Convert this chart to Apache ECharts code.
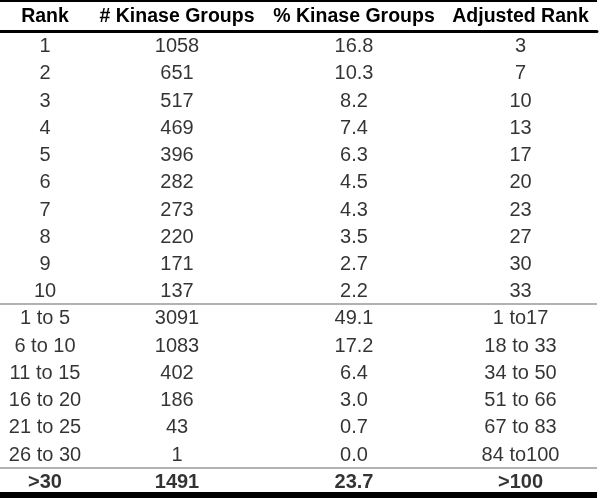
<!DOCTYPE html>
<html>
<head>
<meta charset="utf-8">
<script src="https://cdn.jsdelivr.net/npm/echarts@6/dist/echarts.min.js"></script>
<style>html,body{margin:0;padding:0;background:#fff}#c{width:600px;height:498px}</style>
</head>
<body>
<div id="c"></div>
<script>
const headers = ['Rank', '# Kinase Groups', '% Kinase Groups', 'Adjusted Rank'];
const rankLabels = ['1','2','3','4','5','6','7','8','9','10','1 to 5','6 to 10','11 to 15','16 to 20','21 to 25','26 to 30','>30'];
const kinaseGroups = [1058, 651, 517, 469, 396, 282, 273, 220, 171, 137, 3091, 1083, 402, 186, 43, 1, 1491];
const kinasePct = [16.8, 10.3, 8.2, 7.4, 6.3, 4.5, 4.3, 3.5, 2.7, 2.2, 49.1, 17.2, 6.4, 3.0, 0.7, 0.0, 23.7];
const adjustedRank = ['3','7','10','13','17','20','23','27','30','33','1 to17','18 to 33','34 to 50','51 to 66','67 to 83','84 to100','>100'];

const columns = [
  rankLabels,
  kinaseGroups.map(String),
  kinasePct.map(v => v.toFixed(1)),
  adjustedRank
];
const totalRowIndex = rankLabels.length - 1;
const sectionBreaks = [10, 16];

const FONT = '"Liberation Sans", Arial, Helvetica, sans-serif';
const colEdges = [0, 90, 264, 444, 597];
const chart = echarts.init(document.getElementById('c'), null, {renderer: 'canvas'});

const grids = [], xAxes = [], yAxes = [], series = [];
columns.forEach((col, ci) => {
  grids.push({left: colEdges[ci], width: colEdges[ci + 1] - colEdges[ci], top: 31.5, height: 463, containLabel: false});
  xAxes.push({
    type: 'category', gridIndex: ci, position: 'top', data: [headers[ci]],
    axisLine: {show: true, lineStyle: {color: '#000', width: 3}},
    axisTick: {show: false},
    axisLabel: {show: true, interval: 0, margin: 5, color: '#000', fontFamily: FONT, fontSize: 19.5, fontWeight: 'bold'},
    splitLine: {show: false}
  });
  yAxes.push({
    type: 'category', gridIndex: ci, inverse: true, data: rankLabels,
    axisLine: {show: false}, axisTick: {show: false}, axisLabel: {show: false},
    splitLine: {show: true, interval: (idx) => sectionBreaks.includes(idx), lineStyle: {color: '#999', width: 1.5}}
  });
  series.push({
    type: 'scatter', xAxisIndex: ci, yAxisIndex: ci, symbolSize: 0, silent: true,
    data: col.map((txt, ri) => ({
      value: [0, ri],
      label: {
        show: true, position: 'inside', formatter: txt, color: '#000',
        fontFamily: FONT, fontSize: 20, offset: [0, 1.5],
        fontWeight: ri === totalRowIndex ? 'bold' : 'normal'
      }
    }))
  });
});

chart.setOption({
  animation: false,
  backgroundColor: '#fff',
  grid: grids, xAxis: xAxes, yAxis: yAxes, series: series,
  graphic: [
    {type: 'rect', z: 100, shape: {x: 0, y: 0, width: 597, height: 2}, style: {fill: '#000'}},
    {type: 'rect', z: 100, shape: {x: 0, y: 492, width: 597, height: 6}, style: {fill: '#000'}}
  ]
});
</script>
</body>
</html>
